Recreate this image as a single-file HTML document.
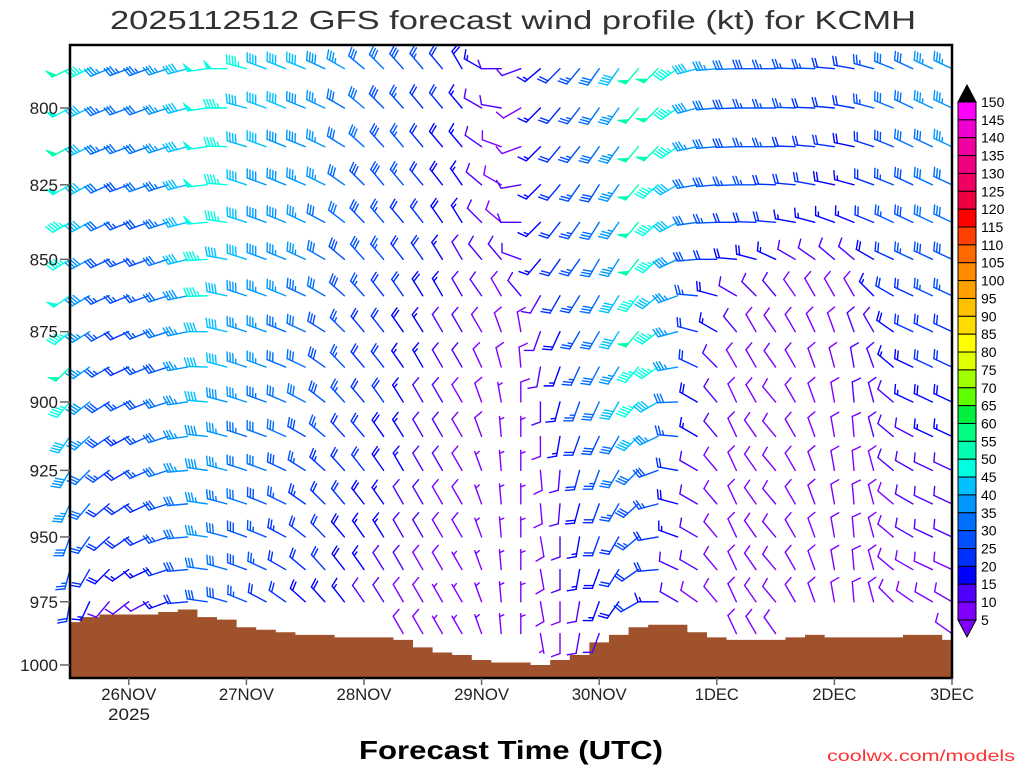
<!DOCTYPE html>
<html><head><meta charset="utf-8"><title>GFS wind profile KCMH</title>
<style>
html,body{margin:0;padding:0;background:#fff;}
svg{display:block;}
text{font-family:"Liberation Sans",sans-serif;}
</style></head>
<body>
<svg id="chart" width="1024" height="768" viewBox="0 0 1024 768" xmlns="http://www.w3.org/2000/svg">
<rect x="0" y="0" width="1024" height="768" fill="#fff"/>
<text x="110" y="29" font-size="26" fill="#333" textLength="806" lengthAdjust="spacingAndGlyphs">2025112512 GFS forecast wind profile (kt) for KCMH</text>
<g id="terrain"></g>
<g id="barbs"></g>
<rect x="70" y="45" width="882" height="633" fill="none" stroke="#000" stroke-width="2.5"/>
<g id="yaxis"></g>
<g id="xaxis"></g>
<g id="cbar"></g>
<text x="359" y="759" font-size="26" font-weight="bold" fill="#000" textLength="304" lengthAdjust="spacingAndGlyphs">Forecast Time (UTC)</text>
<text x="827" y="761" font-size="16" fill="#ff3030" textLength="188" lengthAdjust="spacingAndGlyphs">coolwx.com/models</text>
</svg>
<script>
const levels=[787.5,800,812.5,825,837.5,850,862.5,875,887.5,900,912.5,925,937.5,950,962.5,975,987.5];
const stepHours=4;
const nCols=46;
const yTicks=[800,825,850,875,900,925,950,975,1000];
const dayLabels=["26NOV","27NOV","28NOV","29NOV","30NOV","1DEC","2DEC","3DEC"];
const dayHours=[12,36,60,84,108,132,156,180];
const surfP=[983,981,980,980,980,979,978,981,982,985,986,987,988,988,989,989,989,990,993,995,996,998,999,999,1000,998,996,991,988,985,984,984,987,989,990,990,990,989,988,989,989,989,989,988,988,990];
const cbLevels=[150,145,140,135,130,125,120,115,110,105,100,95,90,85,80,75,70,65,60,55,50,45,40,35,30,25,20,15,10,5];
const cbColors=["#ff00ff","#f000d0","#f000a0","#f00080","#f00060","#f00040","#ff0000","#ff4000","#ff6a00","#ff8a00","#ffa000","#ffc000","#ffdc00","#ffff00","#e0ff00","#a0ff00","#60ff00","#00f040","#00ff80","#00ffb0","#00ffe0","#00c0ff","#0098ff","#0070ff","#0050ff","#0030ff","#0000ff","#5000ff","#7f00ff"];
const spd0=[50,45,35,33,33,35,42,48,48,45,42,40,40,38,35,32,30,28,25,22,18,15,12,10,15,20,25,30,40,50,50,45,40,35,30,28,25,25,25,20,20,25,30,32,35,35];
const spd1=[48,42,33,31,32,35,42,48,45,42,40,40,38,35,32,30,28,25,22,20,15,12,10,8,15,20,25,30,35,50,50,45,38,32,28,25,25,25,22,20,20,25,30,32,35,35];
const spd2=[50,42,33,30,31,35,42,48,45,42,40,38,38,35,32,30,28,25,22,18,15,12,8,8,15,20,25,30,35,50,50,45,35,30,28,25,25,22,22,20,18,22,28,30,32,35];
const spd3=[48,40,30,28,30,33,42,48,45,40,38,38,36,35,30,28,28,25,20,18,15,12,8,10,15,20,25,28,35,50,45,40,30,28,25,25,22,20,20,18,15,22,25,28,30,32];
const spd4=[45,40,30,26,28,33,40,48,45,40,38,38,35,32,30,28,25,22,20,18,15,10,8,10,15,20,25,30,35,50,45,40,30,25,22,22,20,15,15,15,15,20,25,28,30,30];
const spd5=[45,38,28,25,26,32,40,45,42,40,38,35,35,32,28,28,25,22,20,15,12,10,10,10,15,20,25,30,35,50,45,38,28,22,18,18,15,12,12,12,12,18,22,25,28,28];
const spd6=[48,38,26,25,26,31,38,45,42,38,36,35,33,30,28,25,22,20,18,15,10,10,8,10,12,20,25,30,40,45,40,35,25,18,12,10,10,8,8,8,8,15,20,22,25,25];
const spd7=[45,36,26,22,25,30,36,42,40,36,35,33,32,28,25,22,20,18,15,12,10,8,8,8,12,18,25,30,40,50,45,35,22,15,10,8,8,8,8,8,10,12,18,20,22,22];
const spd8=[50,36,25,22,25,29,36,42,40,35,35,32,30,28,25,22,20,15,15,12,10,8,8,8,10,15,25,30,35,45,45,35,20,10,8,8,8,8,8,8,10,12,15,18,20,20];
const spd9=[45,38,28,25,28,30,36,40,38,35,33,32,30,28,25,22,20,15,12,10,8,8,5,8,10,15,25,30,40,45,40,30,18,10,8,8,8,8,8,8,10,10,12,15,18,18];
const spd10=[40,35,28,24,26,30,35,38,36,33,32,30,28,25,22,20,18,15,12,10,8,8,5,5,8,15,22,28,30,40,35,25,15,10,8,8,8,8,8,8,8,10,10,12,15,15];
const spd11=[38,32,25,22,25,30,35,38,36,32,30,28,26,24,22,20,18,15,12,10,8,5,5,5,8,12,20,25,30,30,28,20,12,8,8,8,8,8,8,8,8,8,10,10,12,12];
const spd12=[35,30,22,20,22,28,32,36,34,30,28,26,24,22,20,18,15,12,10,8,8,5,5,5,8,10,18,22,25,28,25,18,10,8,8,8,8,8,8,8,8,8,8,10,10,10];
const spd13=[30,25,20,20,22,25,32,35,32,28,26,24,22,20,18,16,15,12,10,8,8,5,5,5,8,10,15,20,22,25,22,15,10,8,8,8,8,8,8,8,8,8,8,10,10,10];
const spd14=[25,22,18,15,15,20,28,32,30,28,25,22,22,20,18,15,12,10,8,8,5,5,5,5,8,10,15,18,20,22,20,12,10,8,8,8,8,8,8,8,8,8,8,8,8,8];
const spd15=[20,15,12,12,12,15,22,28,28,25,22,20,18,18,15,12,10,8,8,5,5,5,5,5,8,8,12,15,18,20,15,10,8,8,8,8,8,8,8,8,8,8,8,8,8,8];
const spd16=[15,10,8,8,8,10,12,15,18,18,15,15,12,12,10,8,8,8,8,5,5,5,5,5,5,8,10,12,15,15,12,8,8,8,8,8,8,8,8,8,8,8,8,8,8,8];
const dir0=[245,245,248,250,250,252,255,262,270,285,290,292,292,295,300,310,315,318,320,320,330,300,270,250,230,225,220,215,215,220,225,235,255,265,268,270,270,272,272,275,280,285,292,295,295,295];
const dir1=[242,245,248,250,250,252,255,262,270,285,290,292,292,295,300,310,315,318,320,320,320,300,280,240,225,220,218,215,215,220,225,235,255,265,268,270,270,272,272,275,280,285,292,295,295,295];
const dir2=[242,245,248,250,250,252,255,262,272,287,290,292,292,295,302,312,318,320,320,320,320,305,290,250,225,220,218,215,215,220,225,235,258,265,268,270,270,272,275,278,282,288,292,295,295,295];
const dir3=[240,243,246,250,250,252,256,264,275,288,290,292,293,296,305,315,320,320,320,322,325,310,300,260,225,220,215,212,215,220,228,240,260,265,268,270,272,275,280,282,285,290,292,295,295,295];
const dir4=[240,242,245,248,250,252,256,265,278,288,290,292,295,298,308,316,320,320,322,325,328,315,310,270,225,218,215,212,215,220,228,242,262,268,270,272,275,280,285,290,292,292,295,295,295,295];
const dir5=[238,242,245,248,250,252,256,266,280,288,290,292,295,300,310,318,320,322,325,328,330,320,320,290,220,215,215,210,212,218,228,245,265,270,275,285,295,300,305,310,310,300,295,295,295,295];
const dir6=[235,240,245,248,250,252,258,268,282,288,290,292,295,300,312,318,322,325,328,330,330,325,330,320,210,210,212,210,212,218,230,250,275,285,300,315,320,325,330,330,330,315,300,295,295,295];
const dir7=[230,238,242,246,248,252,258,270,283,288,290,292,295,302,315,320,322,325,328,330,330,330,340,350,200,205,210,210,212,220,232,255,285,300,320,330,325,330,335,340,340,330,305,295,295,295];
const dir8=[225,235,240,245,248,252,260,272,285,288,290,292,295,305,316,320,322,325,330,330,330,335,345,355,190,200,205,208,212,220,235,260,295,315,330,330,325,330,340,345,350,340,310,295,295,295];
const dir9=[220,232,238,244,248,252,262,275,285,288,290,293,298,308,318,320,325,328,330,330,330,340,350,0,180,195,200,205,210,222,240,268,300,320,335,330,320,330,340,350,355,345,310,295,295,295];
const dir10=[215,228,236,242,246,252,262,276,285,288,290,294,300,310,318,320,325,328,330,330,330,340,355,0,180,190,200,205,210,225,245,275,300,320,335,325,320,330,340,350,355,345,310,298,295,295];
const dir11=[210,225,234,240,246,252,265,278,285,288,290,295,302,312,318,322,325,330,330,330,330,340,355,0,175,185,195,200,210,225,250,280,300,320,335,325,320,330,340,350,355,345,310,300,295,295];
const dir12=[205,220,230,238,245,252,265,278,285,288,292,296,305,315,320,322,325,330,330,330,330,340,355,0,175,185,195,200,210,228,255,285,300,320,335,325,320,330,340,350,355,345,310,300,295,295];
const dir13=[200,215,228,236,245,252,265,278,285,290,292,298,308,316,320,325,328,330,330,330,330,340,355,0,170,180,190,200,210,230,260,290,300,320,335,325,320,330,340,350,355,345,310,300,295,295];
const dir14=[195,210,225,235,245,252,265,278,286,290,295,300,310,318,322,325,328,330,330,330,330,340,355,0,170,180,190,200,212,235,265,295,300,320,335,325,320,330,340,350,355,345,310,300,295,295];
const dir15=[190,205,220,232,242,250,265,278,286,292,298,305,312,318,322,325,328,330,330,330,330,340,355,0,170,180,190,200,215,240,270,300,305,320,335,325,320,330,340,350,355,345,315,305,300,300];
const dir16=[185,200,215,230,240,250,262,275,285,292,300,306,315,320,325,328,330,330,330,330,330,340,355,0,170,180,190,200,215,240,270,300,310,325,335,330,325,330,340,350,355,345,320,310,305,305];
const speedRows=[spd0,spd1,spd2,spd3,spd4,spd5,spd6,spd7,spd8,spd9,spd10,spd11,spd12,spd13,spd14,spd15,spd16];
const dirRows=[dir0,dir1,dir2,dir3,dir4,dir5,dir6,dir7,dir8,dir9,dir10,dir11,dir12,dir13,dir14,dir15,dir16];

const NS="http://www.w3.org/2000/svg";
const X0=70,X1=952,Y0=45,Y1=678;
function xOfHour(h){return X0+h*(X1-X0)/180;}
function yOfP(p){return 108+2496*Math.log(p/800);}
function colorFor(s){
  if(s<5) return "#8000ff";
  for(let i=cbLevels.length-1;i>0;i--){ if(s>=cbLevels[i] && s<cbLevels[i-1]) return cbColors[i-1]; }
  return "#000";
}
function mk(tag,attrs,parent){const e=document.createElementNS(NS,tag);for(const k in attrs)e.setAttribute(k,attrs[k]);parent.appendChild(e);return e;}

// terrain
const tg=document.getElementById('terrain');
let pts=[];
const half=(X1-X0)/(nCols-1)/2;
for(let k=0;k<nCols;k++){
  const xc=xOfHour(k*stepHours);
  const xa=Math.max(X0,xc-half),xb=Math.min(X1,xc+half);
  const y=yOfP(surfP[k]);
  pts.push(xa+","+y,xb+","+y);
}
const poly=mk('polygon',{points:X0+","+Y1+" "+pts.join(" ")+" "+X1+","+Y1,fill:"#a0522d"},tg);



// barbs
const bg=document.getElementById('barbs');
const L=20,BL=9,SP=3;
for(let r=0;r<levels.length;r++){
  for(let k=0;k<nCols;k++){
    const s=speedRows[r][k],d=dirRows[r][k];
    if(s===undefined||d===undefined) continue;
    if(levels[r]>surfP[k]-2) continue;
    const x=xOfHour(k*stepHours),y=yOfP(levels[r]);
    const th=d*Math.PI/180;
    const ux=Math.sin(th),uy=-Math.cos(th);
    const sa=Math.atan2(uy,ux)+70*Math.PI/180;
    const bx=Math.cos(sa),by=Math.sin(sa);
    const col=colorFor(s);
    const g=mk('g',{stroke:col,fill:col,'stroke-width':1.4,'stroke-linecap':'round'},bg);
    
    
    const tx=x+ux*L,ty=y+uy*L;
    mk('line',{x1:x,y1:y,x2:tx,y2:ty},g);
    let rem=Math.round(s/5)*5,pos=0;
    while(rem>=50){
      const ax=tx-ux*pos,ay=ty-uy*pos;
      const cx=tx-ux*(pos+5),cy=ty-uy*(pos+5);
      mk('polygon',{points:ax+","+ay+" "+(ax+bx*BL)+","+(ay+by*BL)+" "+cx+","+cy,'stroke-width':0.8},g);
      pos+=6;rem-=50;
    }
    while(rem>=10){
      const ax=tx-ux*pos,ay=ty-uy*pos;
      mk('line',{x1:ax,y1:ay,x2:ax+bx*BL,y2:ay+by*BL},g);
      pos+=SP;rem-=10;
    }
    if(rem>=5){
      if(pos===0) pos=SP;
      const ax=tx-ux*pos,ay=ty-uy*pos;
      mk('line',{x1:ax,y1:ay,x2:ax+bx*BL/2,y2:ay+by*BL/2},g);
    }
  }
}

// y axis
const yg=document.getElementById('yaxis');
yTicks.forEach(p=>{
  const y=yOfP(p);
  const t=mk('line',{x1:60,y1:y,x2:X0,y2:y,stroke:"#666","stroke-width":1.5},yg);
  
  
  const lb=mk('text',{x:58,y:y+6,'font-size':17,'text-anchor':'end',fill:"#222"},yg);
  
  
  lb.textContent=String(p);
});
// x axis
const xg=document.getElementById('xaxis');
dayHours.forEach((h,i)=>{
  const x=xOfHour(h);
  const t=mk('line',{x1:x,y1:Y1,x2:x,y2:Y1+7,stroke:"#666","stroke-width":1.5},xg);
  
  
  const w=dayLabels[i].length*11;
  const lb=mk('text',{x:x-w/2,y:700,'font-size':17,fill:"#222",textLength:w,lengthAdjust:"spacingAndGlyphs"},xg);
  
  
  lb.textContent=dayLabels[i];
});
const yr=mk('text',{x:108,y:720,'font-size':17,fill:"#222",textLength:42,lengthAdjust:"spacingAndGlyphs"},xg);


yr.textContent="2025";

// colorbar
const cg=document.getElementById('cbar');
const cbX=958,cbW=18,cbTop=102,cbStep=17.86;
const tri=mk('polygon',{points:cbX+","+cbTop+" "+(cbX+cbW)+","+cbTop+" "+(cbX+cbW/2)+","+(cbTop-17),fill:"#000",stroke:"#000"},cg);


for(let i=0;i<cbColors.length;i++){
  const rct=mk('rect',{x:cbX,y:cbTop+i*cbStep,width:cbW,height:cbStep,fill:cbColors[i],stroke:"#000","stroke-width":1},cg);
  
  
}
const yb=cbTop+cbColors.length*cbStep;
const tri2=mk('polygon',{points:cbX+","+yb+" "+(cbX+cbW)+","+yb+" "+(cbX+cbW/2)+","+(yb+17),fill:"#8000ff",stroke:"#000"},cg);


cbLevels.forEach((v,i)=>{
  const lb=mk('text',{x:981,y:cbTop+i*cbStep+5,'font-size':14,fill:"#000"},cg);
  
  
  lb.textContent=String(v);
});
</script>
</body></html>
